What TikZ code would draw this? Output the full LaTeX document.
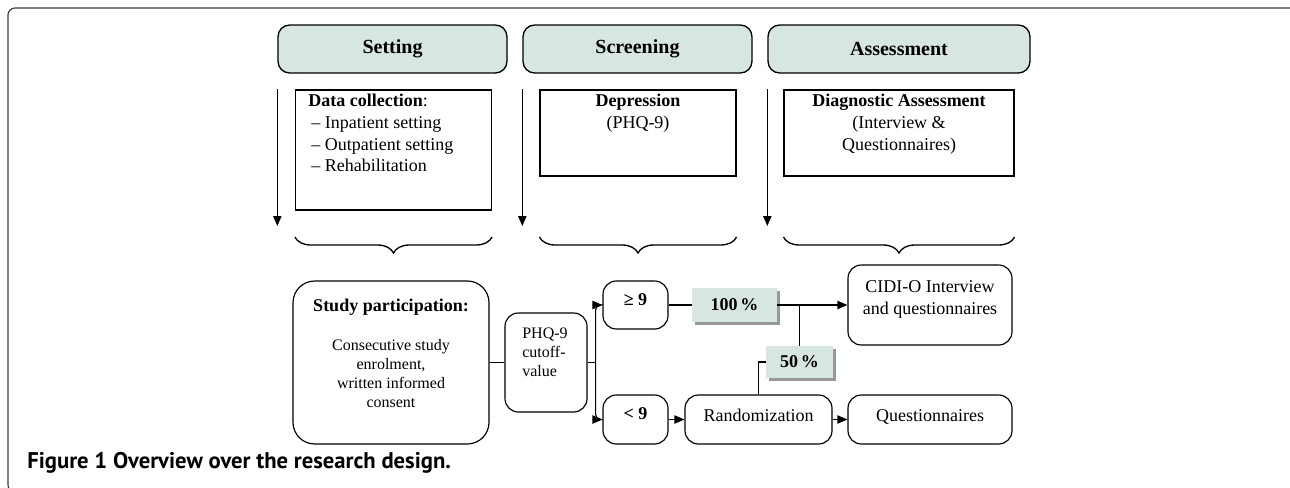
\documentclass[tikz,border=0pt]{standalone}
\usepackage{fontspec}
\setmainfont{Liberation Serif}
\newfontfamily\captionfont{PT Sans}
\usepackage{tikz}
\usetikzlibrary{positioning,arrows.meta,shadows,decorations.pathreplacing}
\definecolor{headgreen}{HTML}{D7E6E0}
\definecolor{framegray}{HTML}{3C3C3C}
\newcommand{\bodysize}{\fontsize{10.8}{13}\selectfont}
\newcommand{\smallsize}{\fontsize{9.6}{11.4}\selectfont}
\tikzstyle{phase} = [rectangle,draw=black,fill=headgreen,rounded corners=7pt,line width=0.8pt,minimum height=28.8pt,font=\fontsize{12}{14}\selectfont\bfseries]
\tikzstyle{info} = [rectangle,draw=black,line width=0.7pt]
\tikzstyle{process} = [rectangle,draw=black,rounded corners=8pt,line width=0.7pt,align=center,text depth=4pt,font=\bodysize]
\tikzstyle{share} = [rectangle,fill=headgreen,drop shadow={shadow xshift=1.5pt,shadow yshift=-1.5pt,fill=black!40,opacity=1},font=\bodysize\bfseries]
\tikzstyle{plain} = [inner sep=0pt,font=\bodysize]
\tikzstyle{arrow} = [-{Triangle[length=6pt,width=5pt]},line width=0.7pt]
\tikzstyle{line} = [line width=0.7pt]
\tikzstyle{curly} = [decorate,decoration={brace,mirror,amplitude=9.6pt},line width=0.8pt]

\begin{document}
\begin{tikzpicture}[x=0.6pt,y=-0.6pt]
 	\useasboundingbox (0,0) rectangle (1290,488);
 	\begin{scope}
 		\clip (0,0) rectangle (1290,488);
 		\draw [framegray,line width=0.7pt,rounded corners=4.2pt] (8,8) rectangle (1298,492);
 	\end{scope}

 	%phases
 	\node (set) [phase,minimum width=137.4pt] at (392.5,49) {Setting};
 	\node (scr) [phase,minimum width=137.4pt] at (637.5,49) {Screening};
 	\node (asm) [phase,minimum width=157.2pt] at (899,49) {Assessment};

 	\node (data) [info,minimum width=117.6pt,minimum height=72pt] at (393.5,150) {};
 	\node (dep) [info,minimum width=117.6pt,minimum height=51.6pt] at (638,133) {};
 	\node (diag) [info,minimum width=138pt,minimum height=51.6pt] at (899,133) {};
 	\node (datatext) [plain,anchor=north west,align=left] at (308,94) {\textbf{Data collection}:\\\,– Inpatient setting\\\,– Outpatient setting\\\,– Rehabilitation};
 	\node (deptext) [plain,anchor=north,align=center] at (638,94) {\textbf{Depression}\\(PHQ-9)};
 	\node (diagtext) [plain,anchor=north,align=center] at (899,94) {\textbf{Diagnostic Assessment}\\(Interview \&\\Questionnaires)};

 	\coordinate (arrowend) at (0,226);
 	\coordinate (bracetop) at (0,237);
 	\foreach \ph/\bx in {set/data,scr/dep,asm/diag} {
 		\draw [arrow] (\ph.west |- \bx.north) -- (\ph.west |- arrowend);
 		\draw [curly] (\bx.west |- bracetop) -- (\bx.east |- bracetop);
 	}

 	%flow
 	\node (study) [process,rounded corners=13pt,minimum width=117.6pt,minimum height=97.8pt] at (391,362.5) {};
 	\node (studytitle) [plain,font=\bodysize\bfseries] at (391,307) {Study participation:};
 	\node (studytext) [plain,align=center,font=\smallsize] at (391,373.5) {Consecutive study\\enrolment,\\written informed\\consent};
 	\node (phq) [process,minimum width=49.2pt,minimum height=59.4pt] at (546,362.5) {};
 	\node (phqtext) [plain,anchor=west,align=left,font=\smallsize] at (522,352) {PHQ-9\\cutoff-\\value};
 	\path (phq.east) ++(8,0) coordinate (split);

 	\node (ge9) [process,font=\bodysize\bfseries,minimum width=39pt,minimum height=28.8pt,text depth=6pt] at (635.5,305) {≥ 9};
 	\node (lt9) [process,font=\bodysize\bfseries,minimum width=39pt,minimum height=29.4pt,text depth=7pt] at (635.5,419.5) {< 9};
 	\node (p100) [share,minimum width=51pt,minimum height=20.4pt] at (734.5,305) {100\,\%};
 	\node (p50) [share,minimum width=40.2pt,minimum height=19.2pt] at (799.5,362) {50\,\%};
 	\node (cidi) [process,minimum width=98.4pt,minimum height=48pt,text depth=9pt] at (930,305) {CIDI-O Interview\\and questionnaires};
 	\node (rand) [process,minimum width=88.2pt,minimum height=29.4pt,text depth=5.5pt] at (758.5,419.5) {Randomization};
 	\node (quest) [process,minimum width=98.4pt,minimum height=29.4pt,text depth=5pt] at (930,419.5) {Questionnaires};

 	\draw [line] (study) -- (phq);
 	\draw [line] (phq.east) -- (split);
 	\draw [arrow,rounded corners=3pt] (split) |- (ge9.west);
 	\draw [arrow,rounded corners=3pt] (split) |- (lt9.west);
 	\draw [line] (ge9) -- (p100);
 	\draw [arrow] (p100) -- (cidi);
 	\draw [line] (p50.north) -- (p50.north |- p100.east);
 	\draw [line] (rand.north) |- (p50.west);
 	\draw [arrow] (lt9) -- (rand);
 	\draw [arrow] (rand) -- (quest);

 	\node (caption) [anchor=west,inner sep=0pt,font=\captionfont\fontsize{13.6}{15}\selectfont\bfseries] at (27,463) {Figure 1 Overview over the research design.};
\end{tikzpicture}
\end{document}
